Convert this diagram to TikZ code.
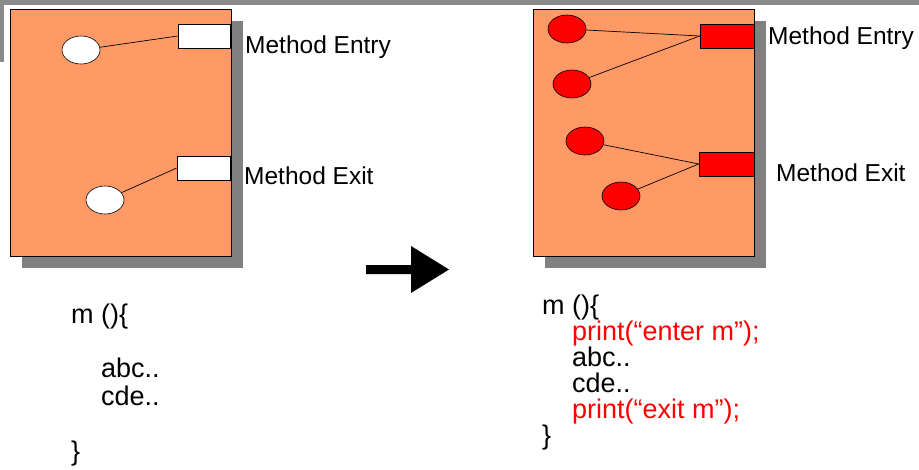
\documentclass[tikz,border=0pt]{standalone}
\usepackage{fontspec}
\setmainfont{Liberation Sans}
\usetikzlibrary{shapes.geometric}
\definecolor{panel}{HTML}{FF9966}
\definecolor{shadowgray}{HTML}{808080}
\definecolor{barray}{HTML}{8A8A8A}
\definecolor{codered}{HTML}{FF0000}
\tikzset{
  panelbox/.style={draw=black, line width=0.8pt, fill=panel, rectangle, inner sep=0pt, minimum width=221pt, minimum height=247pt},
  shadowbox/.style={fill=shadowgray, rectangle, inner sep=0pt, minimum width=221pt, minimum height=247pt},
  portbox/.style={draw=black, line width=0.6pt, rectangle, inner sep=0pt, minimum height=24pt},
  probe/.style={draw=black, line width=0.6pt, ellipse, inner sep=0pt, minimum width=38pt, minimum height=28pt},
  wire/.style={draw=black, line width=0.7pt},
  lbl/.style={anchor=base west, inner sep=0pt, font=\fontsize{24.5pt}{28pt}\selectfont},
  code/.style={anchor=base west, inner sep=0pt, font=\fontsize{27pt}{30pt}\selectfont},
}
\begin{document}
\begin{tikzpicture}[x=1pt,y=-1pt]
\useasboundingbox (0,0) rectangle (919,469);
% top bars
\fill[barray] (0,0) rectangle (919,5);
\fill[barray] (0,0) rectangle (4,62);
% left panel
\node[shadowbox] (Lshadow) at (132.5,144.5) {};
\node[panelbox] (Lpanel) at (120.5,132.5) {};
\node[portbox, fill=white, minimum width=52pt] (Lentry) at (204,36) {};
\node[portbox, fill=white, minimum width=53pt] (Lexit) at (203.5,168) {};
\node[probe, fill=white] (Le1) at (81,50) {};
\node[probe, fill=white] (Le2) at (105,200) {};
\draw[wire] (Le1) -- (Lentry.west);
\draw[wire] (Le2) -- (Lexit.west);
\node[lbl] (LentryT) at (245,53) {Method Entry};
\node[lbl] (LexitT) at (244,184) {Method Exit};
% right panel
\node[shadowbox] (Rshadow) at (655.5,144.5) {};
\node[panelbox] (Rpanel) at (643.5,132.5) {};
\node[portbox, fill=codered, minimum width=54pt] (Rentry) at (727,36) {};
\node[portbox, fill=codered, minimum width=55pt] (Rexit) at (726.5,164) {};
\node[probe, fill=codered] (Re1) at (567,29) {};
\node[probe, fill=codered] (Re2) at (572,84) {};
\node[probe, fill=codered] (Re3) at (585,141) {};
\node[probe, fill=codered] (Re4) at (621,196) {};
\draw[wire] (Re1) -- (Rentry.west);
\draw[wire] (Re2) -- (Rentry.west);
\draw[wire] (Re3) -- (Rexit.west);
\draw[wire] (Re4) -- (Rexit.west);
\node[lbl] (RentryT) at (768,44) {Method Entry};
\node[lbl] (RexitT) at (776,181) {Method Exit};
% big arrow
\coordinate (Astart) at (366,269.5);
\coordinate (Atip) at (449,269.5);
\fill[black] (Astart) ++(0,-4.5) -- (411,265) -- (411,246) -- (Atip) -- (411,293) -- (411,274) -- (366,274) -- cycle;
% left code
\node[code] (Lc1) at (71,323) {m ()\{};
\node[code] (Lc2) at (101,377) {abc..};
\node[code] (Lc3) at (101,405) {cde..};
\node[code] (Lc4) at (71,460) {\}};
% right code
\node[code] (Rc1) at (542,314) {m ()\{};
\node[code, text=codered] (Rc2) at (572,340) {print(“enter m”);};
\node[code] (Rc3) at (572,366) {abc..};
\node[code] (Rc4) at (572,392) {cde..};
\node[code, text=codered] (Rc5) at (572,418) {print(“exit m”);};
\node[code] (Rc6) at (542,444) {\}};
\end{tikzpicture}
\end{document}
